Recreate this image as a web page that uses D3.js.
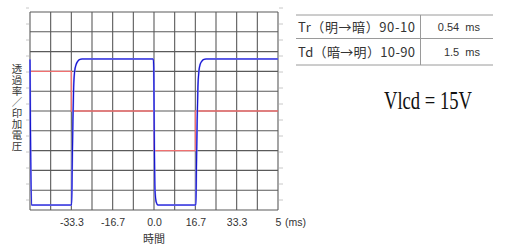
<!DOCTYPE html>
<html>
<head>
<meta charset="utf-8">
<script src="https://cdn.jsdelivr.net/npm/d3@7"></script>
<style>
  html, body { margin: 0; padding: 0; background: #fff; }
  svg { display: block; }
</style>
</head>
<body>
<svg id="canvas"></svg>
<script>
"use strict";

// transmittance (blue) and applied voltage (red), time in ms
const blueTimes = [-50, -49.8, -49.4, -33.2, -33.0, -32.7, -32.4, -32.0, -31.4, -30.8, -30.0, -29.0,
  -0.3, -0.1, 0.1, 0.4, 0.9, 1.6, 16.9, 17.1, 17.4, 17.7, 18.1, 18.6, 19.2, 20.0, 21.0, 50];
const blueValues = [76, 40, 2.5, 2.5, 20, 45, 62, 70, 73.5, 75, 76, 76.3,
  76.3, 72, 40, 10, 4, 2.5, 2.5, 20, 45, 62, 70, 73.5, 75, 76, 76.3, 76.3];
const redTimes = [-50, -33.3, 0, 16.7, 50];
const redValues = [70, 50, 30, 50, 50];

const xTickValues = [-33.3, -16.7, 0, 16.7, 33.3, 50];
const xTickLabels = ["-33.3", "-16.7", "0.0", "16.7", "33.3", "5"];
const yLabel = "透過率／印加電圧";

const tableRows = ["Tr（明→暗）90-10", "Td（暗→明）10-90"];
const tableValues = ["0.54  ms", "1.5  ms"];

const width = 505;
const height = 250;
const plot = { left: 30, right: 278, top: 12, bottom: 210 };

const canvas = d3.select("#canvas").attr("width", width).attr("height", height);

const xScale = d3.scaleLinear().domain([-50, 50]).range([plot.left, plot.right]);
const yScale = d3.scaleLinear().domain([0, 100]).range([plot.bottom, plot.top]);
const sideTickScale = d3.scaleLinear().domain([0, 12]).range([200, 8]);

const drawGrid = () => {
  const vLines = d3.range(13).map((i) => -50 + (i * 100) / 12);
  const hLines = d3.range(0, 101, 10);

  canvas.append("g")
    .selectAll("line")
    .data(vLines)
    .enter()
    .append("line")
    .attr("x1", (d) => xScale(d))
    .attr("x2", (d) => xScale(d))
    .attr("y1", plot.top)
    .attr("y2", plot.bottom)
    .attr("stroke", "#5a5a5a")
    .attr("stroke-width", 1.1);

  canvas.append("g")
    .selectAll("line")
    .data(hLines)
    .enter()
    .append("line")
    .attr("x1", plot.left)
    .attr("x2", plot.right)
    .attr("y1", (d) => yScale(d))
    .attr("y2", (d) => yScale(d))
    .attr("stroke", "#5a5a5a")
    .attr("stroke-width", 1.1);

  // faint side ticks
  const sideTicks = d3.range(13);
  [[26, 29], [279, 283]].forEach(([a, b]) => {
    canvas.append("g")
      .selectAll("line")
      .data(sideTicks)
      .enter()
      .append("line")
      .attr("x1", a)
      .attr("x2", b)
      .attr("y1", (d) => sideTickScale(d))
      .attr("y2", (d) => sideTickScale(d))
      .attr("stroke", "#c8c8c8")
      .attr("stroke-width", 1);
  });
};

const drawLines = () => {
  const red = redTimes.map((t, i) => [t, redValues[i]]);
  const blue = blueTimes.map((t, i) => [t, blueValues[i]]);

  const stepLine = d3.line()
    .x((d) => xScale(d[0]))
    .y((d) => yScale(d[1]))
    .curve(d3.curveStepAfter);

  const smoothLine = d3.line()
    .x((d) => xScale(d[0]))
    .y((d) => yScale(d[1]))
    .curve(d3.curveMonotoneX);

  canvas.append("path")
    .datum(red)
    .attr("d", stepLine)
    .attr("fill", "none")
    .attr("stroke", "#f07070")
    .attr("stroke-width", 1.4);

  canvas.append("path")
    .datum(blue)
    .attr("d", smoothLine)
    .attr("fill", "none")
    .attr("stroke", "#9a9aff")
    .attr("stroke-width", 1.8);

  canvas.append("path")
    .datum(blue)
    .attr("d", smoothLine)
    .attr("fill", "none")
    .attr("stroke", "#1414cc")
    .attr("stroke-width", 1.1);
};

const drawAxes = () => {
  const xAxis = d3.axisBottom(xScale)
    .tickValues(xTickValues)
    .tickFormat((d, i) => xTickLabels[i])
    .tickSize(0)
    .tickPadding(0);

  const g = canvas.append("g")
    .attr("transform", `translate(0,${plot.bottom + 16})`)
    .call(xAxis);
  g.select(".domain").remove();
  g.selectAll("text")
    .attr("dy", 0)
    .attr("font-family", "'Liberation Sans', Arial, sans-serif")
    .attr("font-size", 10.5)
    .attr("fill", "#333");

  canvas.append("text")
    .attr("x", 285)
    .attr("y", plot.bottom + 16)
    .attr("font-family", "'Liberation Sans', Arial, sans-serif")
    .attr("font-size", 10.5)
    .attr("fill", "#333")
    .text("(ms)");

  canvas.append("text")
    .attr("x", xScale(0))
    .attr("y", 243)
    .attr("text-anchor", "middle")
    .attr("font-family", "'Noto Sans CJK JP', sans-serif")
    .attr("font-size", 11)
    .attr("fill", "#333")
    .text("時間");

  // vertical y label
  canvas.append("text")
    .attr("x", 17)
    .attr("y", 64)
    .style("writing-mode", "vertical-rl")
    .style("text-orientation", "upright")
    .style("letter-spacing", "0.5px")
    .attr("font-family", "'Noto Sans CJK JP', sans-serif")
    .attr("font-size", 10.5)
    .attr("fill", "#333")
    .text(yLabel);
};

const drawTable = () => {
  const rowLines = [15, 38.5, 65];
  canvas.append("g")
    .selectAll("line")
    .data(rowLines)
    .enter()
    .append("line")
    .attr("x1", 296)
    .attr("x2", 493)
    .attr("y1", (d) => d)
    .attr("y2", (d) => d)
    .attr("stroke", "#9a9a9a")
    .attr("stroke-width", 1);

  canvas.append("line")
    .attr("x1", 420.5)
    .attr("x2", 420.5)
    .attr("y1", 15)
    .attr("y2", 65)
    .attr("stroke", "#9a9a9a")
    .attr("stroke-width", 1);

  canvas.append("g")
    .selectAll("text")
    .data(tableRows)
    .enter()
    .append("text")
    .attr("x", 298)
    .attr("y", (d, i) => 31.5 + i * 25)
    .attr("textLength", 117)
    .attr("lengthAdjust", "spacing")
    .attr("font-family", "'Noto Sans CJK JP', sans-serif")
    .attr("font-size", 13)
    .attr("fill", "#333")
    .text((d) => d);

  canvas.append("g")
    .selectAll("text")
    .data(tableValues)
    .enter()
    .append("text")
    .attr("x", 480)
    .attr("y", (d, i) => 31 + i * 25)
    .attr("text-anchor", "end")
    .style("white-space", "pre")
    .attr("font-family", "'Liberation Sans', Arial, sans-serif")
    .attr("font-size", 11)
    .attr("fill", "#333")
    .text((d) => d);

  canvas.append("text")
    .attr("x", 384)
    .attr("y", 109)
    .attr("textLength", 88)
    .attr("lengthAdjust", "spacingAndGlyphs")
    .attr("font-family", "'Liberation Serif', 'DejaVu Serif', serif")
    .attr("font-size", 25)
    .attr("fill", "#111")
    .text("Vlcd = 15V");
};

drawGrid();
drawLines();
drawAxes();
drawTable();
</script>
</body>
</html>
